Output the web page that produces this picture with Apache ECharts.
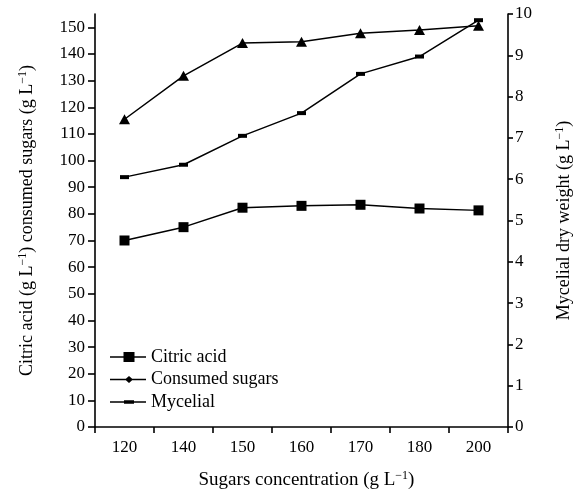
<!DOCTYPE html>
<html>
<head>
<meta charset="utf-8">
<script src="https://cdn.jsdelivr.net/npm/echarts@6/dist/echarts.min.js"></script>
<style>
  html, body { margin: 0; padding: 0; background: #fff; }
  #chart { width: 573px; height: 496px; }
</style>
</head>
<body>
<div id="chart"></div>
<script>
// Sugar concentration levels (g/L) on the x axis
var categories = ['120', '140', '150', '160', '170', '180', '200'];
// Citric acid produced (g/L), left axis
var citricAcid = [70, 75, 82.3, 83, 83.4, 82, 81.3];
// Sugars consumed (g/L), left axis
var consumedSugars = [115.5, 131.8, 144.1, 144.6, 147.8, 149, 150.6];
// Mycelial dry weight (g/L), right axis
var mycelial = [6.05, 6.35, 7.05, 7.6, 8.55, 8.97, 9.85];

var FONT = '"Liberation Serif", "Times New Roman", serif';
var INK = '#000';

// legend glyphs: a short rule with the series marker on top
var corners = 'M0 0h0.01v0.01h-0.01Z M36 10h-0.01v-0.01h0.01Z ';
var iconCitric = 'path://' + corners + 'M0 4.3H36V5.7H0Z M13.5 0H24.5V10H13.5Z';
var iconSugars = 'path://' + corners + 'M0 4.3H36V5.7H0Z M19 1.6L23 5L19 8.4L15 5Z';
var iconMycelial = 'path://' + corners + 'M0 4.3H36V5.7H0Z M14 3.3H24V6.7H14Z';

var sup = { fontSize: 12, fontFamily: FONT, color: INK, padding: [0, 0, 9, 0] };

var chart = echarts.init(document.getElementById('chart'), null, { renderer: 'canvas' });
chart.setOption({
  animation: false,
  backgroundColor: '#fff',
  textStyle: { fontFamily: FONT, color: INK },
  grid: { left: 95, right: 65, top: 14, bottom: 69, containLabel: false, outerBoundsMode: 'none' },
  legend: {
    orient: 'vertical',
    left: 105,
    top: 343,
    itemWidth: 36,
    itemHeight: 10,
    itemGap: 4.5,
    textStyle: { fontFamily: FONT, fontSize: 18, color: INK },
    data: [
      { name: 'Citric acid', icon: iconCitric, itemStyle: { color: INK } },
      { name: 'Consumed sugars', icon: iconSugars, itemStyle: { color: INK } },
      { name: 'Mycelial', icon: iconMycelial, itemStyle: { color: INK } }
    ]
  },
  xAxis: {
    type: 'category',
    data: categories,
    boundaryGap: true,
    name: 'Sugars concentration (g L{s|−1})',
    nameLocation: 'middle',
    nameGap: 43,
    nameTextStyle: { fontFamily: FONT, fontSize: 19, color: INK, padding: [0, 0, 0, 10], rich: { s: sup } },
    axisLine: { lineStyle: { color: INK, width: 1.6 } },
    axisTick: { show: true, inside: false, length: 6, alignWithLabel: false, lineStyle: { color: INK, width: 1.6 } },
    axisLabel: { color: INK, fontFamily: FONT, fontSize: 17, margin: 12 },
    splitLine: { show: false }
  },
  yAxis: [
    {
      type: 'value',
      position: 'left',
      min: 0,
      max: 155,
      interval: 10,
      name: 'Citric acid (g L{s|−1}) consumed sugars (g L{s|−1})',
      nameLocation: 'middle',
      nameRotate: 90,
      nameGap: 57,
      nameTextStyle: { fontFamily: FONT, fontSize: 18, color: INK, rich: { s: sup } },
      axisLine: { show: true, lineStyle: { color: INK, width: 1.6 } },
      axisTick: { show: true, inside: false, length: 7, lineStyle: { color: INK, width: 1.6 } },
      axisLabel: { color: INK, fontFamily: FONT, fontSize: 17, margin: 10, showMaxLabel: false },
      splitLine: { show: false }
    },
    {
      type: 'value',
      position: 'right',
      min: 0,
      max: 10,
      interval: 1,
      name: 'Mycelial dry weight (g L{s|−1})',
      nameLocation: 'middle',
      nameRotate: 90,
      nameGap: 46,
      nameTextStyle: { fontFamily: FONT, fontSize: 18, color: INK, rich: { s: sup } },
      axisLine: { show: true, lineStyle: { color: INK, width: 1.6 } },
      axisTick: { show: true, inside: false, length: 5, lineStyle: { color: INK, width: 1.6 } },
      axisLabel: { color: INK, fontFamily: FONT, fontSize: 17, margin: 7 },
      splitLine: { show: false }
    }
  ],
  series: [
    {
      name: 'Citric acid',
      type: 'line',
      yAxisIndex: 0,
      data: citricAcid,
      symbol: 'rect',
      symbolSize: 10,
      lineStyle: { color: INK, width: 1.5 },
      itemStyle: { color: INK },
      z: 3
    },
    {
      name: 'Consumed sugars',
      type: 'line',
      yAxisIndex: 0,
      data: consumedSugars,
      symbol: 'triangle',
      symbolSize: [11, 10],
      lineStyle: { color: INK, width: 1.5 },
      itemStyle: { color: INK },
      z: 3
    },
    {
      name: 'Mycelial',
      type: 'line',
      yAxisIndex: 1,
      data: mycelial,
      symbol: 'rect',
      symbolSize: [9, 4],
      lineStyle: { color: INK, width: 1.5 },
      itemStyle: { color: INK },
      z: 3
    }
  ]
});
</script>
</body>
</html>
